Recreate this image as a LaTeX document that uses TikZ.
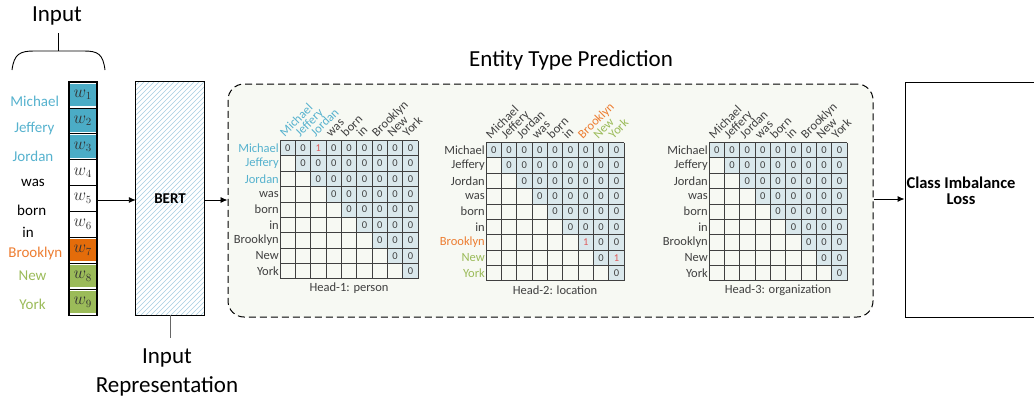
\documentclass[tikz,border=0pt]{standalone}
\usepackage{fontspec}
\setmainfont{Carlito}
\usetikzlibrary{arrows.meta,calc}
\definecolor{tl}{RGB}{86,178,206}
\definecolor{tlfill}{RGB}{75,172,198}
\definecolor{org}{RGB}{237,125,49}
\definecolor{orgfill}{RGB}{228,108,10}
\definecolor{grn}{RGB}{155,187,89}
\definecolor{grnfill}{RGB}{155,187,89}
\definecolor{lab}{RGB}{64,64,64}
\definecolor{cellfill}{RGB}{218,232,236}
\definecolor{one}{RGB}{222,92,92}
\definecolor{boxfill}{RGB}{247,249,243}
\definecolor{hatch}{RGB}{165,205,225}
\tikzset{
  arr/.style={-{Latex[length=7pt,width=6pt]},line width=0.9pt},
  word/.style={font=\fontsize{15}{17}\selectfont,inner sep=0},
  mlab/.style={font=\fontsize{12.5}{14}\selectfont,inner sep=0},
  digit/.style={font=\fontsize{10.5}{12}\selectfont,text=lab,inner sep=0},
  caption/.style={font=\fontsize{12.5}{14}\selectfont,text=lab,inner sep=0},
  gline/.style={draw=lab,line width=0.8pt},
  title/.style={font=\fontsize{23}{26}\selectfont,inner sep=0},
  boldlab/.style={font=\bfseries\fontsize{15}{18}\selectfont,align=center},
  lossfont/.style={font=\bfseries\fontsize{16.5}{19}\selectfont,align=center},
}
\def\cs{15.35}
\newcommand\headgrid[5]{%
  \foreach \r in {0,...,8}{\foreach \c in {\r,...,8}{%
    \fill[cellfill] ({#1+\c*\cs},{#2+\r*\cs}) rectangle ++(\cs,\cs);
    \node[digit] at ({#1+(\c+0.5)*\cs},{#2+(\r+0.5)*\cs}) {0};}}
  \foreach \r/\c in {#4}{%
    \fill[cellfill] ({#1+\c*\cs},{#2+\r*\cs}) rectangle ++(\cs,\cs);
    \node[digit,text=one] at ({#1+(\c+0.5)*\cs},{#2+(\r+0.5)*\cs}) {1};}
  \foreach \k in {0,...,9}{%
    \draw[gline] ({#1+\k*\cs},#2) -- ++(0,{9*\cs});
    \draw[gline] (#1,{#2+\k*\cs}) -- ++({9*\cs},0);}
  \foreach \w/\col [count=\i from 0] in {#3}{%
    \node[mlab,text=\col,anchor=east] at ({#1-1},{#2+(\i+0.5)*\cs}) {\w};
    \node[mlab,text=\col,rotate=45,anchor=base west] at ({#1+(\i+0.5)*\cs-3},{#2-3}) {\w};}
  \node[caption] at ({#1+4.5*\cs},{#2+9*\cs+10}) {#5};
}
\begin{document}
\begin{tikzpicture}[x=1pt,y=-1pt]
\useasboundingbox (0,0) rectangle (1034,400);
% Input title and brace
\node[title,anchor=base] (intitle) at (57,21) {Input};
\draw[line width=0.9pt] (12,70) .. controls (14,54) and (20,51) .. (34,51) -- (84,51) .. controls (98,51) and (103,54) .. (105,70);
\draw[line width=0.9pt] (58,33) -- (58,51);
% word column
\node[draw,line width=0.9pt,minimum width=27.5pt,minimum height=233pt,inner sep=0] (col) at (82.75,198.5) {};
\foreach \i/\f in {0/tlfill,1/tlfill,2/tlfill,6/orgfill,7/grnfill,8/grnfill}{%
  \fill[\f] (69.5,{82+\i*25.89+1.5}) rectangle (96,{82+(\i+1)*25.89-2});}
\foreach \i in {1,...,8}{%
  \draw[line width=0.7pt] (69,{82+\i*25.89}) -- (96.5,{82+\i*25.89});}
\draw[line width=0.9pt] (col.north west) rectangle (col.south east);
\foreach \i in {0,...,8}{%
  \pgfmathtruncatemacro\n{\i+1}
  \node[font=\fontsize{16}{18}\selectfont,text=black!80] at (82.75,{82+(\i+0.5)*25.89}) {$w_{\n}$};}
% words
\node[word,text=tl] (m) at (34.7,101) {Michael};
\node[word,text=tl] (j1) at (34.3,129) {Jeffery};
\node[word,text=tl] (j2) at (33,156) {Jordan};
\node[word] (wa) at (33,183) {was};
\node[word] (bo) at (31.7,210) {born};
\node[word] (in) at (28,232) {in};
\node[word,text=org] (br) at (35.3,253) {Brooklyn};
\node[word,text=grn] (ne) at (32.5,276) {New};
\node[word,text=grn] (yo) at (32.5,304) {York};
% BERT
\node[minimum width=68pt,minimum height=233pt,inner sep=0,fill=white] (bert) at (170,198.5) {};
\begin{scope}
  \clip (bert.north west) rectangle (bert.south east);
  \foreach \k in {-240,-235,...,80}{%
    \draw[hatch,line width=0.6pt] ({136+\k},315) -- ++(240,-240);}
\end{scope}
\draw[line width=0.9pt] (bert.north west) rectangle (bert.south east);
\node[boldlab] at (bert.center) {BERT};
\coordinate (bstem) at (170,338);
\draw[line width=0.9pt,draw=black!60] (bert.south) -- (bstem);
\node[title,anchor=base] (ir1) at (167,363) {Input};
\node[title,anchor=base] (ir2) at (167,392) {Representation};
% prediction box
\node[draw,dash pattern=on 7pt off 4pt,line width=1pt,rounded corners=16pt,fill=boxfill,minimum width=645pt,minimum height=233pt] (pred) at (550.5,200.5) {};
\node[title] (ptitle) at (571,60) {Entity Type Prediction};
% loss box
\node[draw,line width=0.9pt,minimum width=133pt,minimum height=235pt,inner sep=0] (loss) at (971.5,199.5) {};
\node[lossfont] at (961,191) {Class Imbalance\\[-3pt]Loss};
% arrows
\draw[arr] (col.east |- 0,200) -- (bert.west |- 0,200);
\draw[arr] (bert.east |- 0,200) -- (pred.west |- 0,200);
\draw[arr] (pred.east |- 0,199) -- (loss.west |- 0,199);
% heads
\headgrid{280}{140.5}{Michael/tl,Jeffery/tl,Jordan/tl,was/lab,born/lab,in/lab,Brooklyn/lab,New/lab,York/lab}{0/2}{Head-1: person}
\headgrid{486}{142.5}{Michael/lab,Jeffery/lab,Jordan/lab,was/lab,born/lab,in/lab,Brooklyn/org,New/grn,York/grn}{6/6,7/8}{Head-2: location}
\headgrid{709}{142.5}{Michael/lab,Jeffery/lab,Jordan/lab,was/lab,born/lab,in/lab,Brooklyn/lab,New/lab,York/lab}{}{Head-3: organization}
\end{tikzpicture}
\end{document}
